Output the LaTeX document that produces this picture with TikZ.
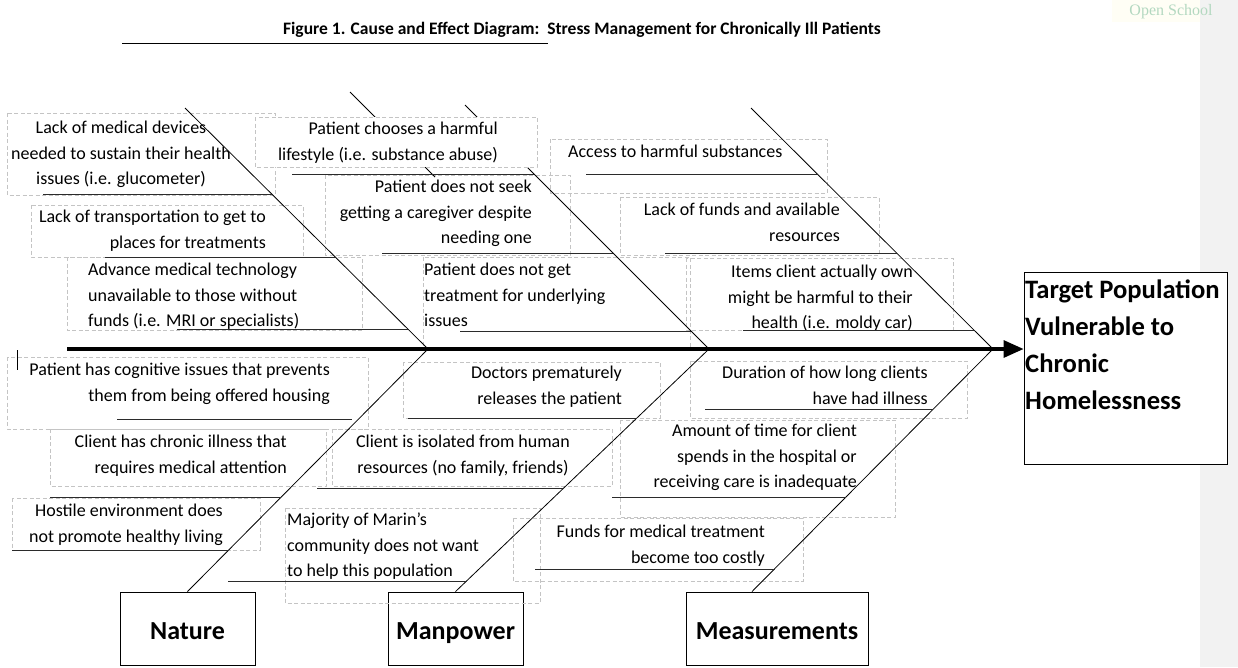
\documentclass[tikz,border=0pt]{standalone}
\usepackage{fontspec}
\setmainfont{Carlito}
\newfontfamily\osfont{Liberation Serif}
\usetikzlibrary{arrows.meta}

\definecolor{boxgray}{HTML}{C4C4C4}
\definecolor{linegray}{HTML}{2B2B2B}
\definecolor{osgreen}{HTML}{B3D8C0}

\tikzset{
  cause/.style={inner sep=0pt, font=\fontsize{18}{25.5}\selectfont},
  frame/.style={draw=boxgray, dash pattern=on 4pt off 2.5pt, line width=0.6pt},
  uline/.style={draw=linegray, line width=0.9pt},
  bone/.style={draw=black, line width=0.8pt},
  spine/.style={line width=3.2pt, -{Triangle[length=20pt,width=17pt]}},
  catbox/.style={draw, line width=0.9pt, minimum height=73pt,
    text height=26pt, text depth=5pt, font=\bfseries\fontsize{26}{30}\selectfont},
  effbox/.style={draw, fill=white, line width=0.9pt, minimum width=203pt, minimum height=192pt},
  efftext/.style={inner sep=0pt, align=left, font=\bfseries\fontsize{26.6}{37}\selectfont},
}

\begin{document}
\begin{tikzpicture}[x=1pt, y=-1pt]
  \useasboundingbox (0,0) rectangle (1238,667);

  % page edge and header
  \fill[black!5] (1200,0) rectangle (1238,667);
  \fill[yellow!4] (1112,0) rectangle (1200,22);
  \node[font=\osfont\fontsize{16}{16}\selectfont, text=osgreen] (os) at (1171,12) {Open School};
  \node[font=\bfseries\fontsize{17.5}{20}\selectfont] (title) at (582,30)
    {Figure 1. Cause and Effect Diagram:\ \ Stress Management for Chronically Ill Patients};
  \draw[line width=0.9pt] (122,43) -- (548,43);

  % effect and categories
  \node[effbox] (tgt) at (1125.5,368) {};
  \node[efftext, anchor=north west] (tgtlbl) at (1025,280)
    {Target Population\\Vulnerable to\\Chronic\\Homelessness};
  \node[catbox, minimum width=135pt] (nature) at (187.5,628.5) {Nature};
  \node[catbox, minimum width=135pt] (manpower) at (455.5,628.5) {Manpower};
  \node[catbox, minimum width=182pt] (measure) at (777,628.5) {Measurements};

  % text box frames
  \draw[frame] (7,113) rectangle (275,195);
  \draw[frame] (31,205) rectangle (303,257);
  \draw[frame] (67,257) rectangle (362,330);
  \draw[frame] (325,175) rectangle (570,255);
  \draw[frame] (423,257) rectangle (690,347);
  \draw[frame] (550,139) rectangle (827,193);
  \draw[frame] (620,197) rectangle (879,255);
  \draw[frame] (686,258) rectangle (953,330);
  \draw[frame] (7,357) rectangle (368,429);
  \draw[frame] (50,429) rectangle (326,486);
  \draw[frame] (12,498) rectangle (260,550);
  \draw[frame] (403,362) rectangle (660,418);
  \draw[frame] (332,429) rectangle (612,486);
  \draw[frame] (285,508) rectangle (540,603);
  \draw[frame] (690,361) rectangle (967,418);
  \draw[frame] (620,420) rectangle (895,517);
  \draw[frame] (513,518) rectangle (803,581);

  % bones
  \coordinate (tail) at (67,349);
  \coordinate (n1) at (185,108);
  \coordinate (n2) at (428,349);
  \coordinate (m0) at (350,92);
  \coordinate (m0e) at (435,177);
  \coordinate (m1) at (465,105);
  \coordinate (m2) at (709,349);
  \coordinate (s1) at (751,108);
  \coordinate (s2) at (993,349);
  \draw[bone] (n1) -- (n2) -- (nature.north);
  \draw[bone] (m0) -- (m0e);
  \draw[bone] (m1) -- (m2) -- (manpower.north);
  \draw[bone] (s1) -- (s2) -- ([xshift=-25pt]measure.north);
  \draw[frame, fill=white] (255,117) rectangle (537,167);

  % causes, upper side
  \node[cause, align=center, anchor=north] (devices) at (121,121)
    {Lack of medical devices\\needed to sustain their health\\issues (i.e. glucometer)};
  \node[cause, align=right, anchor=north east] (transport) at (266,210)
    {Lack of transportation to get to\\places for treatments};
  \node[cause, align=left, anchor=north west] (tech) at (88,263)
    {Advance medical technology\\unavailable to those without\\funds (i.e. MRI or specialists)};
  \node[cause, align=right, anchor=north east] (lifestyle) at (498,122)
    {Patient chooses a harmful\\lifestyle (i.e. substance abuse)};
  \node[cause, align=right, anchor=north east] (caregiver) at (532,180)
    {Patient does not seek\\getting a caregiver despite\\needing one};
  \node[cause, align=left, anchor=north west] (treatment) at (424,263)
    {Patient does not get\\treatment for underlying\\issues};
  \node[cause, align=left, anchor=north west] (access) at (568,145)
    {Access to harmful substances};
  \node[cause, align=right, anchor=north east] (funds) at (840,203)
    {Lack of funds and available\\resources};
  \node[cause, align=right, anchor=north east] (items) at (913,265)
    {Items client actually own\\might be harmful to their\\health (i.e. moldy car)};

  % causes, lower side
  \node[cause, align=right, anchor=north east] (cognitive) at (330,363)
    {Patient has cognitive issues that prevents\\them from being offered housing};
  \node[cause, align=right, anchor=north east] (chronic) at (287,435)
    {Client has chronic illness that\\requires medical attention};
  \node[cause, align=right, anchor=north east] (hostile) at (223,504)
    {Hostile environment does\\not promote healthy living};
  \node[cause, align=right, anchor=north east] (doctors) at (622,366)
    {Doctors prematurely\\releases the patient};
  \node[cause, align=center, anchor=north] (isolated) at (463,435)
    {Client is isolated from human\\resources (no family, friends)};
  \node[cause, align=left, anchor=north west] (marin) at (287,513)
    {Majority of Marin’s\\community does not want\\to help this population};
  \node[cause, align=right, anchor=north east] (duration) at (928,366)
    {Duration of how long clients\\have had illness};
  \node[cause, align=right, anchor=north east] (hospital) at (857,424)
    {Amount of time for client\\spends in the hospital or\\receiving care is inadequate};
  \node[cause, align=right, anchor=north east] (costly) at (765,525)
    {Funds for medical treatment\\become too costly};

  % underlines to the bones
  \draw[uline] (43,194) -- (272,194);
  \draw[uline] (105,257) -- (335,257);
  \draw[uline] (177,329) -- (408,329);
  \draw[uline] (292,174) -- (534,174);
  \draw[uline] (382,253) -- (613,253);
  \draw[uline] (460,331) -- (691,331);
  \draw[uline] (586,174) -- (817,174);
  \draw[uline] (665,253) -- (897,253);
  \draw[uline] (743,330) -- (974,330);
  \draw[uline] (117,419) -- (352,419);
  \draw[uline] (50,497) -- (281,497);
  \draw[uline] (12,550) -- (229,550);
  \draw[uline] (408,418) -- (637,418);
  \draw[uline] (317,488) -- (564,488);
  \draw[uline] (228,581) -- (467,581);
  \draw[uline] (705,409) -- (933,409);
  \draw[uline] (612,497) -- (846,497);
  \draw[uline] (535,569) -- (775,569);

  % main spine
  \draw[spine] (tail) -- (tail -| tgt.west);
  \draw[line width=0.6pt] (17,350) -- (17,370);
\end{tikzpicture}
\end{document}
